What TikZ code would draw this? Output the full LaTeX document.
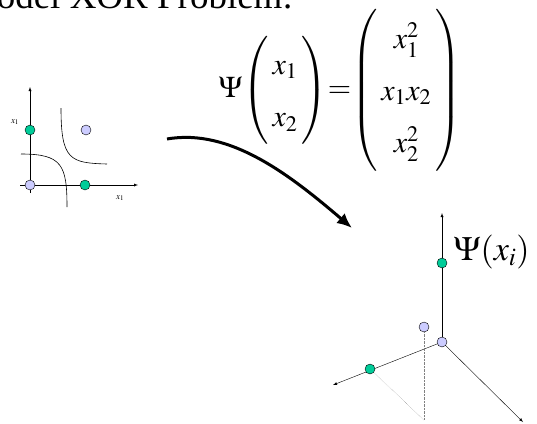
\documentclass[tikz,border=0pt]{standalone}
\usepackage{mathptmx}
\usepackage{fontspec}
\setmainfont{Liberation Serif}
\usepackage{tikz}
\usetikzlibrary{arrows,arrows.meta,positioning,calc}
\definecolor{xorgreen}{RGB}{0,204,153}
\definecolor{xorblue}{RGB}{204,204,255}

\begin{document}
\begin{tikzpicture}[x=1pt,y=-1pt,
        greendot/.style={circle, draw=black, fill=xorgreen, inner sep=0pt, minimum size=10pt},
        bluedot/.style={circle, draw=black, fill=xorblue, inner sep=0pt, minimum size=10pt},
        axis/.style={-latex, thin},
        proj/.style={gray, densely dotted, thin}]
    \useasboundingbox (0,0) rectangle (537,423);
    \clip (0,0) rectangle (537,423);

    % title, only its lower half shows
    \node[anchor=base east, inner sep=0pt, font=\fontsize{37}{40}\selectfont] (title) at (293,9) {Model XOR Problem:};

    % input space
    \coordinate (ytop) at (30,87);
    \coordinate (ybot) at (30,193);
    \coordinate (xleft) at (20,185);
    \coordinate (xright) at (138,185);
    \draw[axis] (ybot) -- (ytop);
    \draw[axis] (xleft) -- (xright);
    \draw[semithick] (61,108) .. controls (61,160) and (70,163) .. (107,164);
    \draw[semithick] (21,154) .. controls (62,154) and (67,165) .. (67,207);
    \node[font=\fontsize{9}{10}\selectfont] (lab1) at (15,122) {$x_1$};
    \node[font=\fontsize{9}{10}\selectfont] (lab2) at (120,198) {$x_1$};
    \node[greendot] (g1) at (30,130) {};
    \node[bluedot] (b1) at (86,130) {};
    \node[bluedot] (b0) at (30,185) {};
    \node[greendot] (g2) at (85,185) {};

    % mapping
    \node[inner sep=0pt, font=\fontsize{30}{36}\selectfont] (map) at (340,90) {%
        $\Psi\!\left(\renewcommand{\arraystretch}{1.45}\begin{array}{@{\hspace{4pt}}c@{\hspace{4pt}}}x_1\\x_2\end{array}\right)
        \!{=}\!\left(\renewcommand{\arraystretch}{1.45}\begin{array}{@{\hspace{4pt}}c@{\hspace{4pt}}}x_1^2\\x_1x_2\\x_2^2\end{array}\right)$};
    \coordinate (arrstart) at (167,139);
    \coordinate (arrend) at (352,228);
    \draw[-{Latex[length=15pt,width=13pt]}, line width=3pt] (arrstart) .. controls (230,128) and (290,175) .. (arrend);

    % feature space
    \coordinate (ztop) at (442,213);
    \coordinate (xaxis) at (333,385);
    \coordinate (yaxis) at (523,422);
    \coordinate (foot) at (424,420);
    \draw[axis] (442,342) -- (ztop);
    \draw[axis] (442,342) -- (xaxis);
    \draw[axis] (442,342) -- (yaxis);
    \node[greendot] (g3) at (442,263) {};
    \node[greendot] (g4) at (370,369) {};
    \node[bluedot] (b4) at (424,327) {};
    \draw[proj] (b4) -- (foot);
    \draw[proj] (g4) -- (foot);
    \node[bluedot] (b3) at (442,342) {};
    \node[anchor=west, font=\fontsize{34}{40}\selectfont] (psilab) at (450,252) {$\Psi(x_i)$};
\end{tikzpicture}
\end{document}
